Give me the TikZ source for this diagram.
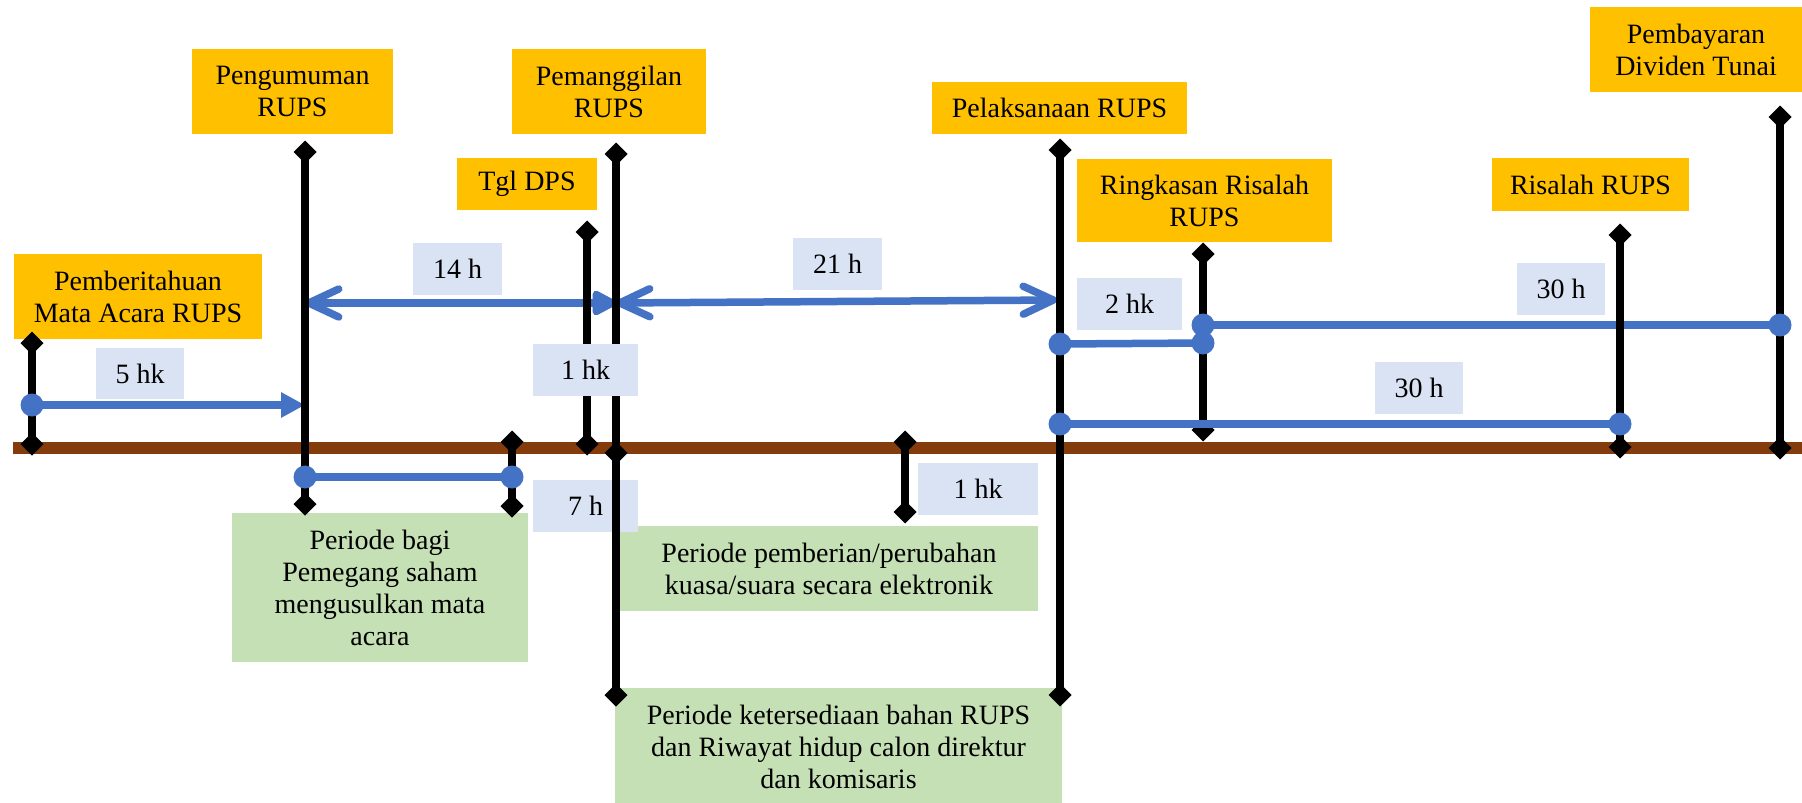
\documentclass[tikz,border=0pt]{standalone}
\usepackage{fontspec}
\setmainfont{Liberation Serif}
\usetikzlibrary{arrows.meta,shapes.geometric}
\definecolor{cOrange}{HTML}{FFC000}
\definecolor{cBlue}{HTML}{4472C4}
\definecolor{cLabel}{HTML}{DAE3F3}
\definecolor{cGreen}{HTML}{C5E0B4}
\definecolor{cBrown}{HTML}{843C0C}
\tikzset{
  barbtip/.tip={Straight Barb[length=30pt,width=28pt,round]},
  tritip/.tip={Triangle[length=28pt,width=27pt,round]},
  trismalltip/.tip={Triangle[length=24pt,width=24pt]},
}
\begin{document}
\begin{tikzpicture}[x=1pt,y=-1pt,
  every node/.style={font=\fontsize{28}{32}\selectfont, inner sep=0pt, outer sep=0pt},
  box/.style={align=center, text=black},
  obox/.style={box, fill=cOrange},
  lbox/.style={box, fill=cLabel},
  gbox/.style={box, fill=cGreen},
  dia/.style={diamond, fill=black, minimum width=23pt, minimum height=23pt, inner sep=0pt},
  dot/.style={circle, fill=cBlue, minimum size=23pt, inner sep=0pt},
  vline/.style={line width=8pt, draw=black},
  bline/.style={line width=7.5pt, draw=cBlue},
  barline/.style={line width=12pt, draw=cBrown},
]
\fill[white] (0,0) rectangle (1802,803);
\useasboundingbox (0,0) rectangle (1802,803);

% time axis
\coordinate (barL) at (13,448);
\coordinate (barR) at (1802,448);
\draw[barline] (barL) -- (barR);

% event boxes
\node[obox, minimum width=248pt, minimum height=85pt] (pemb) at (138,296.5) {Pemberitahuan\\Mata Acara RUPS};
\node[obox, minimum width=201pt, minimum height=85pt] (peng) at (292.5,91.5) {Pengumuman\\RUPS};
\node[obox, minimum width=194pt, minimum height=85pt] (pmg) at (609,91.5) {Pemanggilan\\RUPS};
\node[obox, minimum width=140pt, minimum height=52pt] (tgl) at (527,184) {Tgl DPS};
\node[obox, minimum width=255pt, minimum height=52pt] (pel) at (1059.5,108) {Pelaksanaan RUPS};
\node[obox, minimum width=255pt, minimum height=83pt] (ring) at (1204.5,200.5) {Ringkasan Risalah\\RUPS};
\node[obox, minimum width=197pt, minimum height=53pt] (ris) at (1590.5,184.5) {Risalah RUPS};
\node[obox, minimum width=212pt, minimum height=85pt] (bayar) at (1696,49.5) {Pembayaran\\Dividen Tunai};

% period boxes
\node[gbox, minimum width=296pt, minimum height=149pt] (g1) at (380,587.5) {Periode bagi\\Pemegang saham\\mengusulkan mata\\acara};
\node[gbox, minimum width=418pt, minimum height=85pt] (g2) at (829,568.5) {Periode pemberian/perubahan\\kuasa/suara secara elektronik};
\node[gbox, minimum width=447pt, minimum height=118pt] (g3) at (838.5,747) {Periode ketersediaan bahan RUPS\\dan Riwayat hidup calon direktur\\dan komisaris};

% label under the Pemanggilan line
\node[lbox, minimum width=105pt, minimum height=52pt] (l7) at (585.5,506) {7 h};

% Ringkasan line (lies under the blue lines)
\node[dia] (v8t) at (1203,254) {};
\node[dia] (v8b) at (1203,430) {};
\draw[vline] (v8t.center) -- (v8b.center);

% blue connector end points
\coordinate (p5s) at (32,405);   \coordinate (p5e) at (305,405);
\coordinate (p14s) at (305,303); \coordinate (p14e) at (616,303);
\coordinate (p21s) at (616,303); \coordinate (p21e) at (1057,300);
\coordinate (p7s) at (305,477);  \coordinate (p7e) at (512,477);
\coordinate (p2s) at (1060,344); \coordinate (p2e) at (1203,343);
\coordinate (pUs) at (1203,325); \coordinate (pUe) at (1780,325);
\coordinate (pLs) at (1060,424); \coordinate (pLe) at (1620,424);

% blue connectors
\draw[bline, -{trismalltip}] (p5s) -- (p5e);
\draw[bline, {barbtip}-{tritip}] (p14s) -- (p14e);
\draw[bline, {barbtip}-{barbtip}] (p21s) -- (p21e);
\draw[bline] (p7s) -- (p7e);
\draw[bline] (p2s) -- (p2e);
\draw[bline] (pUs) -- (pUe);
\draw[bline] (pLs) -- (pLe);

% black event lines
\node[dia] (v1t) at (32,343) {};   \node[dia] (v1b) at (32,444) {};
\draw[vline] (v1t.center) -- (v1b.center);
\node[dia] (v2t) at (305,152) {};  \node[dia] (v2b) at (305,504) {};
\draw[vline] (v2t.center) -- (v2b.center);
\node[dia] (v3t) at (512,442) {};  \node[dia] (v3b) at (512,506) {};
\draw[vline] (v3t.center) -- (v3b.center);
\node[dia] (v4t) at (587,232) {};  \node[dia] (v4b) at (587,444) {};
\draw[vline] (v4t.center) -- (v4b.center);
\node[dia] (v5t) at (616,154) {};  \node[dia] (v5m) at (616,453) {};  \node[dia] (v5b) at (616,695) {};
\draw[vline] (v5t.center) -- (v5m.center) -- (v5b.center);
\node[dia] (v6t) at (905,442) {};  \node[dia] (v6b) at (905,512) {};
\draw[vline] (v6t.center) -- (v6b.center);
\node[dia] (v7t) at (1060,150) {}; \node[dia] (v7b) at (1060,695) {};
\draw[vline] (v7t.center) -- (v7b.center);
\node[dia] (v9t) at (1620,235) {}; \node[dia] (v9b) at (1620,447) {};
\draw[vline] (v9t.center) -- (v9b.center);
\node[dia] (v10t) at (1780,117) {}; \node[dia] (v10b) at (1780,448) {};
\draw[vline] (v10t.center) -- (v10b.center);

% blue dots
\node[dot] (d5) at (p5s) {};
\node[dot] (d7a) at (p7s) {};
\node[dot] (d7b) at (p7e) {};
\node[dot] (d2a) at (p2s) {};
\node[dot] (d2b) at (p2e) {};
\node[dot] (dUa) at (pUs) {};
\node[dot] (dUb) at (pUe) {};
\node[dot] (dLa) at (pLs) {};
\node[dot] (dLb) at (pLe) {};

% duration labels
\node[lbox, minimum width=88pt, minimum height=51pt] (l5) at (140,373.5) {5 hk};
\node[lbox, minimum width=89pt, minimum height=52pt] (l14) at (457.5,269) {14 h};
\node[lbox, minimum width=105pt, minimum height=52pt] (l1a) at (585.5,370) {1 hk};
\node[lbox, minimum width=89pt, minimum height=52pt] (l21) at (837.5,264) {21 h};
\node[lbox, minimum width=105pt, minimum height=52pt] (l2) at (1129.5,304) {2 hk};
\node[lbox, minimum width=88pt, minimum height=52pt] (l30a) at (1561,289) {30 h};
\node[lbox, minimum width=88pt, minimum height=52pt] (l30b) at (1419,388) {30 h};
\node[lbox, minimum width=120pt, minimum height=52pt] (l1b) at (978,489) {1 hk};
\end{tikzpicture}
\end{document}
